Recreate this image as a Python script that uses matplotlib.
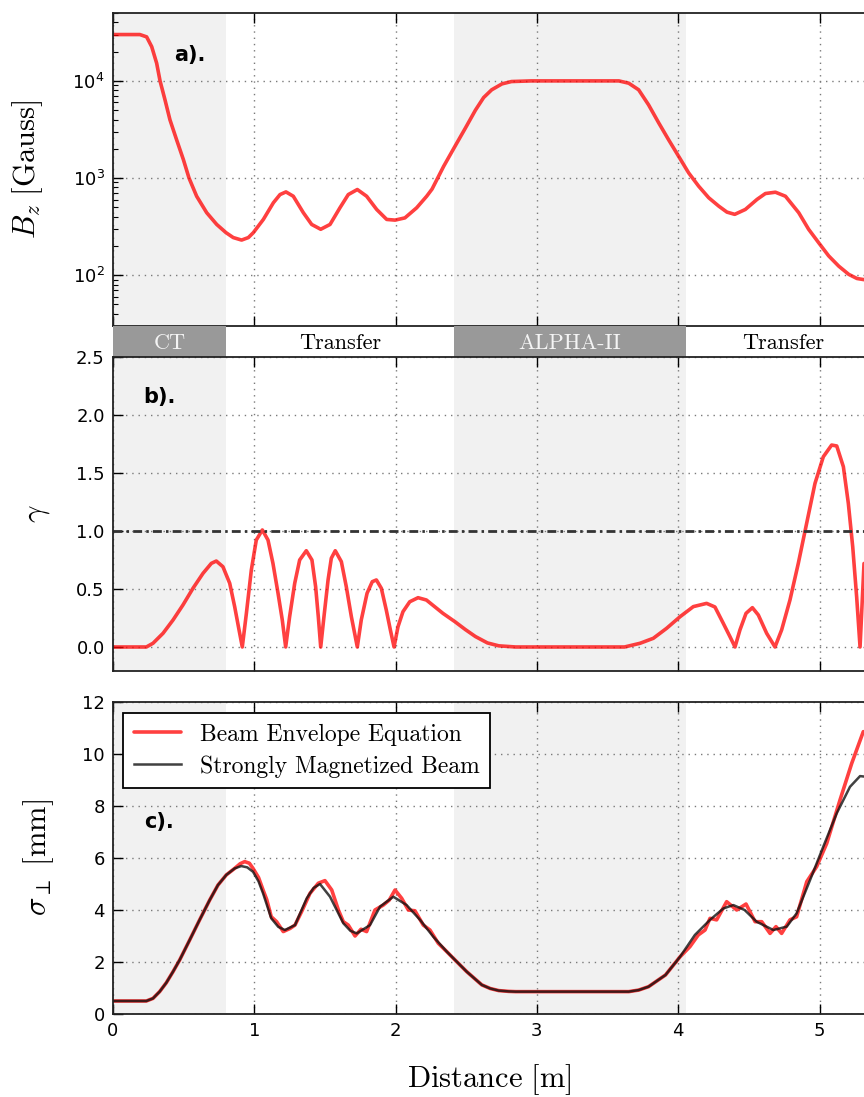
import numpy as np
import matplotlib
matplotlib.use("Agg")
import matplotlib.pyplot as plt
from matplotlib.ticker import LogLocator, MultipleLocator, NullFormatter, FormatStrFormatter

# on-axis field along the line [m, Gauss]
bz_pos = [0.0, 0.19, 0.238, 0.274, 0.309, 0.333, 0.368, 0.403, 0.45, 0.498, 0.538, 0.592,
          0.663, 0.734, 0.80, 0.851, 0.91, 0.958, 0.993, 1.064, 1.135, 1.182, 1.224, 1.276,
          1.347, 1.406, 1.47, 1.536, 1.606, 1.665, 1.729, 1.795, 1.866, 1.937, 1.996, 2.066,
          2.149, 2.22, 2.258, 2.34, 2.42, 2.494, 2.565, 2.623, 2.68, 2.753, 2.82, 2.96,
          3.58, 3.65, 3.72, 3.79, 3.862, 3.932, 4.003, 4.074, 4.145, 4.216, 4.287, 4.345,
          4.40, 4.475, 4.558, 4.617, 4.688, 4.759, 4.853, 4.923, 4.994, 5.065, 5.136, 5.207,
          5.265, 5.315]
bz_gauss = [30000, 30000, 28400, 22500, 15200, 10000, 6380, 3980, 2480, 1550, 1000, 650,
            440, 333, 274, 244, 230, 244, 274, 375, 557, 676, 720, 650,
            440, 333, 297, 333, 494, 676, 762, 650, 475, 375, 369, 389,
            494, 650, 770, 1320, 2120, 3270, 5000, 6740, 8100, 9320, 9850, 10000,
            10000, 9470, 8100, 5680, 3700, 2480, 1675, 1130, 824, 627, 514, 446,
            423, 475, 603, 693, 715, 650, 440, 297, 216, 158, 124, 102,
            92.5, 90]

# gamma parameter
gam_pos = [0.0, 0.236, 0.283, 0.354, 0.425, 0.495, 0.566, 0.637, 0.696, 0.731, 0.778, 0.826,
           0.861, 0.892, 0.915, 0.944, 0.979, 1.014, 1.057, 1.097, 1.132, 1.168, 1.198, 1.222,
           1.25, 1.286, 1.321, 1.368, 1.408, 1.434, 1.453, 1.47, 1.493, 1.522, 1.545, 1.573,
           1.616, 1.651, 1.687, 1.729, 1.757, 1.798, 1.835, 1.864, 1.899, 1.934, 1.963, 1.989,
           2.017, 2.052, 2.1, 2.159, 2.218, 2.276, 2.335, 2.42, 2.494, 2.565, 2.65, 2.73,
           2.85, 3.62, 3.73, 3.824, 3.918, 4.013, 4.107, 4.201, 4.26, 4.319, 4.366, 4.402,
           4.437, 4.48, 4.525, 4.567, 4.626, 4.685, 4.732, 4.791, 4.85, 4.909, 4.968, 5.027,
           5.086, 5.122, 5.169, 5.204, 5.235, 5.263, 5.287, 5.315]
gam_val = [0.0, 0.0, 0.032, 0.118, 0.233, 0.362, 0.506, 0.635, 0.721, 0.741, 0.692, 0.549,
           0.348, 0.147, 0.0, 0.29, 0.664, 0.922, 1.009, 0.922, 0.721, 0.463, 0.233, 0.0,
           0.261, 0.549, 0.75, 0.83, 0.75, 0.52, 0.261, 0.0, 0.261, 0.578, 0.765, 0.83,
           0.736, 0.52, 0.261, 0.0, 0.233, 0.463, 0.563, 0.578, 0.506, 0.319, 0.147, 0.0,
           0.175, 0.304, 0.39, 0.425, 0.405, 0.348, 0.29, 0.218, 0.15, 0.09, 0.035, 0.01,
           0.0, 0.0, 0.032, 0.075, 0.161, 0.261, 0.348, 0.376, 0.345, 0.204, 0.09, 0.0,
           0.147, 0.29, 0.339, 0.276, 0.118, 0.0, 0.147, 0.405, 0.721, 1.066, 1.41, 1.64,
           1.741, 1.733, 1.554, 1.239, 0.865, 0.431, 0.0, 0.72]

# rms radius, envelope equation
env_pos = [0.0, 0.19, 0.236, 0.283, 0.33, 0.377, 0.425, 0.472, 0.543, 0.613, 0.684, 0.743,
           0.802, 0.861, 0.90, 0.932, 0.965, 0.991, 1.03, 1.062, 1.088, 1.12, 1.158, 1.205,
           1.253, 1.288, 1.335, 1.394, 1.453, 1.5, 1.548, 1.595, 1.63, 1.665, 1.713, 1.755,
           1.795, 1.854, 1.913, 1.955, 1.996, 2.043, 2.09, 2.137, 2.196, 2.243, 2.302, 2.362,
           2.42, 2.503, 2.61, 2.67, 2.73, 2.8, 2.85, 3.65, 3.72, 3.79, 3.91, 4.013, 4.083,
           4.142, 4.19, 4.225, 4.272, 4.343, 4.414, 4.48, 4.544, 4.591, 4.65, 4.692, 4.732,
           4.791, 4.838, 4.91, 4.98, 5.051, 5.145, 5.228, 5.31]
env_mm = [0.5, 0.5, 0.5, 0.6, 0.86, 1.2, 1.63, 2.08, 2.85, 3.62, 4.38, 4.96,
          5.35, 5.6, 5.78, 5.86, 5.8, 5.6, 5.25, 4.77, 4.4, 3.74, 3.55, 3.17,
          3.29, 3.42, 3.94, 4.64, 5.03, 5.13, 4.77, 4.0, 3.55, 3.42, 3.0, 3.26,
          3.17, 4.0, 4.19, 4.38, 4.77, 4.45, 4.0, 3.97, 3.42, 3.23, 2.72, 2.4,
          2.08, 1.63, 1.12, 0.98, 0.9, 0.87, 0.86, 0.86, 0.92, 1.05, 1.5, 2.2, 2.59,
          3.04, 3.23, 3.68, 3.62, 4.32, 4.0, 4.23, 3.55, 3.55, 3.1, 3.36, 3.1,
          3.62, 3.74, 5.09, 5.67, 6.56, 8.23, 9.64, 10.86]

# rms radius, strongly magnetized limit
smb_pos = [0.0, 0.19, 0.236, 0.283, 0.33, 0.377, 0.425, 0.472, 0.543, 0.613, 0.684, 0.743,
           0.802, 0.861, 0.908, 0.95, 0.991, 1.03, 1.062, 1.12, 1.17, 1.217, 1.288, 1.371,
           1.42, 1.465, 1.536, 1.63, 1.68, 1.725, 1.819, 1.89, 1.984, 2.078, 2.173, 2.267,
           2.362, 2.503, 2.61, 2.67, 2.73, 2.8, 2.85, 3.65, 3.72, 3.79, 3.91, 4.013, 4.118,
           4.225, 4.32, 4.39, 4.47, 4.555, 4.673, 4.768, 4.838, 4.933, 5.027, 5.122, 5.216,
           5.287, 5.32]
smb_mm = [0.5, 0.5, 0.5, 0.6, 0.86, 1.2, 1.63, 2.08, 2.85, 3.62, 4.38, 4.96,
          5.35, 5.6, 5.69, 5.64, 5.47, 5.1, 4.64, 3.68, 3.35, 3.23, 3.42, 4.45,
          4.85, 5.0, 4.51, 3.49, 3.2, 3.1, 3.42, 4.13, 4.51, 4.19, 3.62, 2.97,
          2.4, 1.63, 1.12, 0.98, 0.9, 0.87, 0.86, 0.86, 0.92, 1.05, 1.5, 2.2, 3.04,
          3.62, 4.06, 4.19, 4.0, 3.55, 3.23, 3.36, 3.87, 5.15, 6.44, 7.72, 8.74,
          9.15, 9.13]

# machine sections along the line
sec_names = ["CT", "Transfer", "ALPHA-II", "Transfer"]
sec_start = [0.0, 0.8, 2.41, 4.055]
sec_end = [0.8, 2.41, 4.055, 5.43]
sec_magnet = [True, False, True, False]

XMAX = 5.43
W, H = 864, 1097

plt.rcParams["xtick.direction"] = "in"
plt.rcParams["ytick.direction"] = "in"
plt.rcParams["xtick.top"] = True
plt.rcParams["ytick.right"] = True

fig = plt.figure(figsize=(W / 100, H / 100), dpi=100)

left = 113 / W
width = XMAX * 141.3 / W


def box(top_px, bot_px):
    return [left, 1 - bot_px / H, width, (bot_px - top_px) / H]


ax_a = fig.add_axes(box(13, 326))
ax_s = fig.add_axes(box(326, 357))
ax_b = fig.add_axes(box(357, 671))
ax_c = fig.add_axes(box(702, 1014))

red = dict(color="red", alpha=0.75, lw=2.6, solid_capstyle="round", solid_joinstyle="round")

for ax in (ax_a, ax_b, ax_c):
    for s0, s1, mag in zip(sec_start, sec_end, sec_magnet):
        if mag:
            ax.axvspan(s0, s1, color="#f1f1f1", lw=0, zorder=0)
    ax.set_xlim(0, XMAX)
    ax.set_axisbelow(True)
    ax.grid(True, color="#7a7a7a", ls=(0, (1, 3.5)), lw=1.0)
    ax.xaxis.set_major_locator(MultipleLocator(1))
    ax.tick_params(which="major", length=7, width=1, labelsize=13, pad=6)
    ax.tick_params(which="minor", length=3.5, width=0.8)
    for sp in ax.spines.values():
        sp.set_linewidth(1.3)
        sp.set_color("#222222")

# a) field
ax_a.semilogy(bz_pos, bz_gauss, **red)
ax_a.set_ylim(30, 5e4)
ax_a.yaxis.set_major_locator(LogLocator(base=10))
ax_a.yaxis.set_minor_locator(LogLocator(base=10, subs=np.arange(2, 10)))
ax_a.yaxis.set_minor_formatter(NullFormatter())
ax_a.tick_params(labelbottom=False)
ax_a.set_ylabel(r"$B_z\ [\mathrm{Gauss}]$", fontsize=22, math_fontfamily="cm", va="center")
ax_a.yaxis.set_label_coords(-0.1115, 0.5)
ax_a.text(0.08, 0.866, "a).", transform=ax_a.transAxes, fontsize=15,
          fontweight="bold", ha="left", va="center")

# section strip
ax_s.set_xlim(0, XMAX)
ax_s.set_ylim(0, 1)
ax_s.axis("off")
for name, s0, s1, mag in zip(sec_names, sec_start, sec_end, sec_magnet):
    if mag:
        ax_s.axvspan(s0, s1, color="#999999", lw=0)
    ax_s.text((s0 + s1) / 2, 0.45, name, ha="center", va="center", fontsize=16,
              family="cmr10", color="#f4f4f4" if mag else "black")

# b) gamma
ax_b.plot(gam_pos, gam_val, **red)
ax_b.axhline(1.0, color="#333333", lw=2.0, dashes=(3.2, 1.5, 0.9, 1.5))
ax_b.set_ylim(-0.207, 2.5)
ax_b.yaxis.set_major_locator(MultipleLocator(0.5))
ax_b.yaxis.set_major_formatter(FormatStrFormatter("%.1f"))
ax_b.tick_params(labelbottom=False)
ax_b.set_ylabel(r"$\gamma$", fontsize=22, math_fontfamily="cm", va="center")
ax_b.yaxis.set_label_coords(-0.0985, 0.5)
ax_b.text(0.04, 0.873, "b).", transform=ax_b.transAxes, fontsize=15,
          fontweight="bold", ha="left", va="center")

# c) beam size
ax_c.plot(env_pos, env_mm, label="Beam Envelope Equation", **red)
ax_c.plot(smb_pos, smb_mm, color="#111111", alpha=0.8, lw=1.8, solid_joinstyle="round",
          label="Strongly Magnetized Beam")
ax_c.set_ylim(0, 12)
ax_c.yaxis.set_major_locator(MultipleLocator(2))
ax_c.set_ylabel(r"$\sigma_\perp\ [\mathrm{mm}]$", fontsize=22, math_fontfamily="cm",
                va="center")
ax_c.yaxis.set_label_coords(-0.0965, 0.5)
ax_c.set_xlabel(r"$\mathrm{Distance}\ [\mathrm{m}]$", fontsize=22, math_fontfamily="cm",
                va="center")
ax_c.xaxis.set_label_coords(0.49, -0.21)
ax_c.text(0.04, 0.616, "c).", transform=ax_c.transAxes, fontsize=15,
          fontweight="bold", ha="left", va="center")
leg = ax_c.legend(loc="upper left", bbox_to_anchor=(0.0135, 0.965), borderaxespad=0,
                  prop={"family": "cmr10", "size": 17}, fancybox=False, framealpha=1,
                  handlelength=2.0, handletextpad=0.8, borderpad=0.45, labelspacing=0.4)
leg.get_frame().set_edgecolor("black")
leg.get_frame().set_linewidth(1.3)

fig.savefig("out.png", dpi=100)
